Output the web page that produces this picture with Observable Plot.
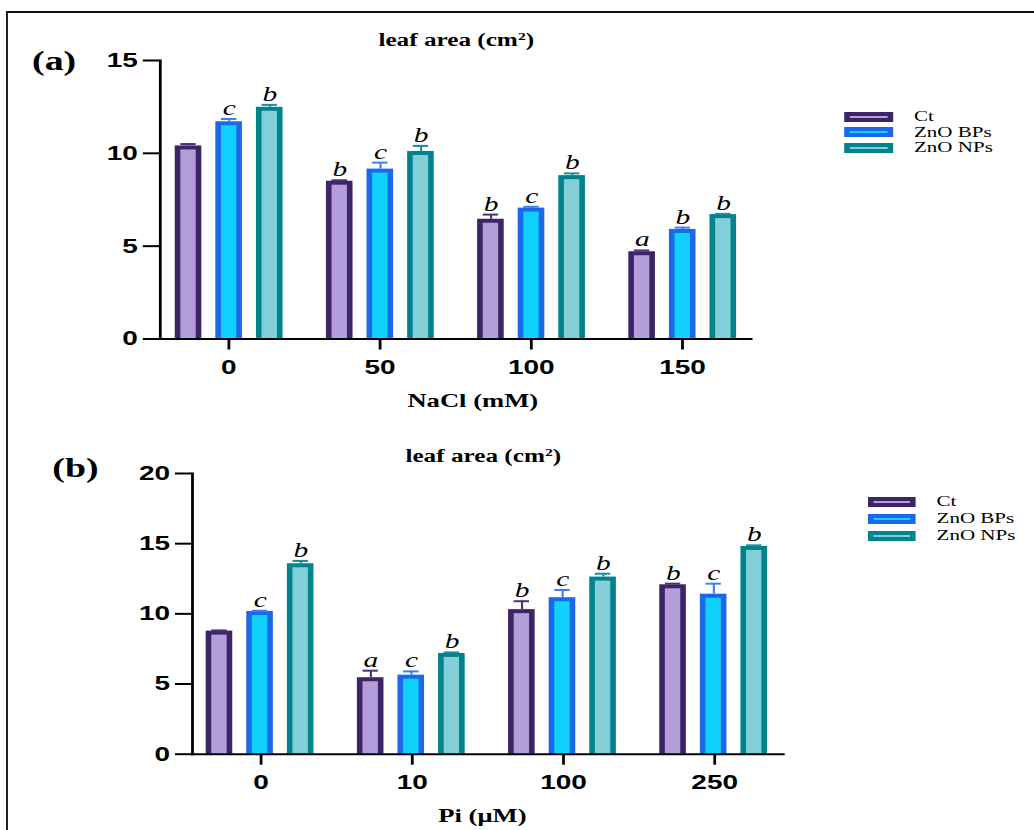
<!DOCTYPE html>
<html>
<head>
<meta charset="utf-8">
<script src="https://cdn.jsdelivr.net/npm/d3@7"></script>
<script src="https://cdn.jsdelivr.net/npm/@observablehq/plot@0.6"></script>
<style>
  body { margin: 0; background: #fff; }
  #page { position: relative; width: 1034px; height: 830px; overflow: hidden; background: #fff; }
  #border { position: absolute; left: 6px; top: 11px; width: 1100px; height: 900px;
            border-top: 2px solid #111; border-left: 2px solid #222; }
  /* the whole figure is drawn on a horizontally stretched canvas */
  #canvas { position: absolute; left: 0; top: 0; width: 739px; height: 830px;
            transform: scaleX(1.4); transform-origin: 0 0; }
  .abs { position: absolute; }
  .serif { font-family: "Liberation Serif", "Times New Roman", serif; color: #000; }
  .centered { transform: translate(-50%, -50%); white-space: nowrap; line-height: 1; }
  .bold { font-weight: bold; }
  sup { font-size: 0.62em; vertical-align: 0.55em; line-height: 0; }
  .legend-row { display: flex; align-items: center; }
  .swatch { position: relative; flex: none; }
  .swatch .core { position: absolute; left: 4px; right: 4px; top: 4px; height: 2px; }
  .legend-label { font-family: "Liberation Serif", "Times New Roman", serif; font-size: 15px; line-height: 1; color: #000; white-space: nowrap; }
</style>
</head>
<body>
<div id="page">
  <div id="border"></div>
  <div id="canvas">
    <div id="plotA" class="abs" style="left:0;top:0;"></div>
    <div id="plotB" class="abs" style="left:0;top:420px;"></div>

    <div class="abs serif bold centered" style="left:38.7px;top:61px;font-size:27px;">(a)</div>
    <div class="abs serif bold centered" style="left:325.9px;top:40px;font-size:18px;">leaf area (cm<sup>2</sup>)</div>
    <div class="abs serif bold centered" style="left:337.7px;top:400px;font-size:19px;">NaCl (mM)</div>

    <div class="abs serif bold centered" style="left:53.9px;top:468px;font-size:27px;">(b)</div>
    <div class="abs serif bold centered" style="left:345.2px;top:456px;font-size:18px;">leaf area (cm<sup>2</sup>)</div>
    <div class="abs serif bold centered" style="left:344.6px;top:815px;font-size:19px;">Pi (μM)</div>

    <div id="legendA" class="abs" style="left:603px;top:109px;"></div>
    <div id="legendB" class="abs" style="left:620.2px;top:493.6px;"></div>
  </div>
</div>
<script>
// Treatments and their colours (outline, fill, error bar)
const series = ["Ct", "ZnO BPs", "ZnO NPs"];
const strokeColors = ["#3c2467", "#1b69ea", "#00838d"];
const fillColors = ["#b49ddb", "#10d0fd", "#83cfd7"];
const errColors = ["#4a3378", "#3b82f0", "#1a8f98"];

// (a) leaf area under NaCl stress
const naclDoses = ["0", "50", "100", "150"];
const naclCt = [10.4, 8.5, 6.45, 4.7];
const naclCtSE = [0.1, 0.05, 0.25, 0.07];
const naclBPs = [11.7, 9.15, 7.05, 5.9];
const naclBPsSE = [0.15, 0.35, 0.07, 0.1];
const naclNPs = [12.48, 10.1, 8.8, 6.7];
const naclNPsSE = [0.13, 0.3, 0.12, 0.04];
const naclCtLetters = ["", "b", "b", "a"];
const naclBPsLetters = ["c", "c", "c", "b"];
const naclNPsLetters = ["b", "b", "b", "b"];
const naclTicks = [0, 5, 10, 15];

// (b) leaf area under phosphate (Pi) levels
const piDoses = ["0", "10", "100", "250"];
const piCt = [8.77, 5.45, 10.3, 12.07];
const piCtSE = [0.05, 0.5, 0.6, 0.08];
const piBPs = [10.17, 5.63, 11.15, 11.4];
const piBPsSE = [0.05, 0.27, 0.55, 0.75];
const piNPs = [13.57, 7.18, 12.62, 14.8];
const piNPsSE = [0.2, 0.07, 0.24, 0.08];
const piCtLetters = ["", "a", "b", "b"];
const piBPsLetters = ["c", "c", "c", "c"];
const piNPsLetters = ["b", "b", "b", "b"];
const piTicks = [0, 5, 10, 15, 20];

function table(doses, values, errors, letters) {
  return doses.flatMap((dose, i) =>
    series.map((s, k) => ({
      dose,
      series: s,
      value: values[k][i],
      top: values[k][i] + errors[k][i],
      letter: letters[k][i]
    }))
  );
}

const sans = "'Liberation Sans', Arial, sans-serif";
const serif = "'Liberation Serif', 'Times New Roman', serif";

function panel(rows, doses, yMax, ticks, size) {
  const marks = [];
  series.forEach((s, k) => {
    const d = rows.filter(r => r.series === s);
    marks.push(
      Plot.barY(d, {fx: "dose", x: "series", y: "value", fill: strokeColors[k]}),
      Plot.barY(d, {fx: "dose", x: "series", y: "value", fill: fillColors[k], insetLeft: 4, insetRight: 4, insetTop: 4}),
      Plot.ruleX(d, {fx: "dose", x: "series", y1: "value", y2: "top", stroke: errColors[k], strokeWidth: 1.5}),
      Plot.tickY(d, {fx: "dose", x: "series", y: "top", stroke: errColors[k], strokeWidth: 2, insetLeft: 4, insetRight: 4})
    );
  });
  marks.push(
    Plot.text(rows.filter(r => r.letter), {
      fx: "dose", x: "series", y: "top", text: "letter",
      lineAnchor: "bottom", dy: -4,
      fontFamily: serif, fontStyle: "italic", fontSize: 21, fill: "#000"
    }),
    Plot.frame({anchor: "left", facet: "super", stroke: "#000", strokeWidth: 2}),
    Plot.frame({anchor: "bottom", facet: "super", stroke: "#000", strokeWidth: 2}),
    Plot.axisY({
      ticks, tickSize: 12, tickPadding: 4, strokeWidth: 2, label: null,
      fontSize: 20, fontWeight: "bold", fontFamily: sans
    }),
    Plot.axisFx({
      anchor: "bottom",
      tickSize: 11, tickPadding: 10, strokeWidth: 2, label: null,
      fontSize: 20, fontWeight: "bold", fontFamily: sans
    })
  );
  return Plot.plot({
    width: size.width,
    height: size.height,
    marginLeft: size.marginLeft,
    marginRight: size.marginRight,
    marginTop: size.marginTop,
    marginBottom: size.marginBottom,
    style: {background: "transparent", color: "#000", fontFamily: sans, overflow: "visible"},
    fx: {domain: doses, paddingInner: 0.09, paddingOuter: 0, label: null},
    x: {domain: series, paddingInner: 1 / 3, paddingOuter: 0.313, axis: null},
    y: {domain: [0, yMax], label: null},
    marks
  });
}

const rowsA = table(naclDoses, [naclCt, naclBPs, naclNPs], [naclCtSE, naclBPsSE, naclNPsSE],
                    [naclCtLetters, naclBPsLetters, naclNPsLetters]);
const rowsB = table(piDoses, [piCt, piBPs, piNPs], [piCtSE, piBPsSE, piNPsSE],
                    [piCtLetters, piBPsLetters, piNPsLetters]);

document.getElementById("plotA").append(
  panel(rowsA, naclDoses, 15, naclTicks,
        {width: 560, height: 380, marginLeft: 113.2, marginRight: 22.1, marginTop: 60, marginBottom: 41.5})
);
document.getElementById("plotB").append(
  panel(rowsB, piDoses, 20, piTicks,
        {width: 580, height: 376, marginLeft: 136.1, marginRight: 20, marginTop: 53, marginBottom: 42.3})
);

// Legends: a horizontal bar swatch per treatment
function legend(el, rowHeight, swatchWidth, gap) {
  series.forEach((s, k) => {
    const row = document.createElement("div");
    row.className = "legend-row";
    row.style.height = rowHeight + "px";
    const sw = document.createElement("div");
    sw.className = "swatch";
    sw.style.width = swatchWidth + "px";
    sw.style.height = "10px";
    sw.style.background = strokeColors[k];
    const core = document.createElement("div");
    core.className = "core";
    core.style.background = fillColors[k];
    sw.append(core);
    const label = document.createElement("span");
    label.className = "legend-label";
    label.style.marginLeft = gap + "px";
    label.textContent = s;
    row.append(sw, label);
    el.append(row);
  });
}
legend(document.getElementById("legendA"), 15.5, 35, 14.9);
legend(document.getElementById("legendB"), 16.8, 34, 14.8);
</script>
</body>
</html>
